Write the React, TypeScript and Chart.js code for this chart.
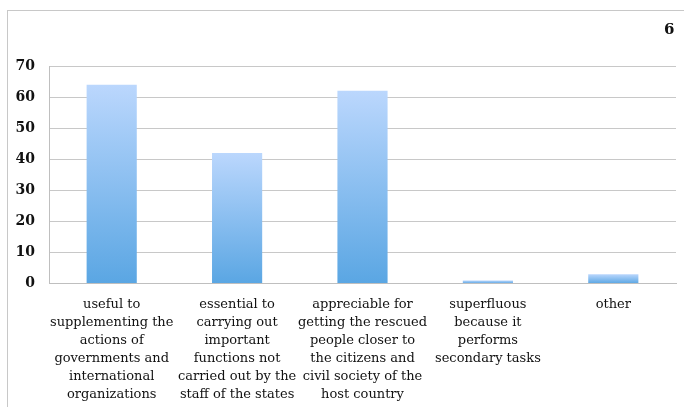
import React, { useEffect, useRef } from "react";
import { Chart, registerables } from "chart.js";

Chart.register(...registerables);

const categories: string[][] = [
  ["useful to", "supplementing the", "actions of", "governments and", "international", "organizations"],
  ["essential to", "carrying out", "important", "functions not", "carried out by the", "staff of the states"],
  ["appreciable for", "getting the rescued", "people closer to", "the citizens and", "civil society of the", "host country"],
  ["superfluous", "because it", "performs", "secondary tasks"],
  ["other"],
];
const values: number[] = [64, 42, 62, 1, 3];
const yTicks: number[] = [0, 10, 20, 30, 40, 50, 60, 70];

export default function App() {
  const ref = useRef<HTMLCanvasElement | null>(null);
  useEffect(() => {
    if (!ref.current) return;
    const chart = new Chart(ref.current, {
      type: "bar",
      data: {
        labels: categories,
        datasets: [
          {
            data: values,
            categoryPercentage: 1,
            barPercentage: 0.4,
            borderWidth: 0,
            backgroundColor: (ctx: any) => {
              const c = ctx.chart;
              const y = c.scales?.y;
              if (!y || ctx.dataIndex === undefined) return "#8ABEF0";
              const top = y.getPixelForValue(values[ctx.dataIndex]);
              const base = y.getPixelForValue(0);
              if (!isFinite(top) || !isFinite(base) || top === base) return "#8ABEF0";
              const g = c.ctx.createLinearGradient(0, top, 0, base);
              g.addColorStop(0, "#BBD7FD");
              g.addColorStop(1, "#5AA6E3");
              return g;
            },
          },
        ],
      },
      options: {
        animation: false,
        responsive: false,
        devicePixelRatio: 1,
        layout: { padding: { left: 0, right: 8, top: 66, bottom: 0 } },
        plugins: { legend: { display: false }, tooltip: { enabled: false }, title: { display: false } },
        scales: {
          x: {
            grid: { display: false, drawTicks: false },
            border: { display: true, color: "#BFBFBF", width: 1 },
            ticks: {
              color: "#111",
              padding: 12,
              maxRotation: 0,
              autoSkip: false,
              font: { family: "DejaVu Serif", size: 13, lineHeight: 1.38 },
            },
            afterFit: (s: any) => {
              s.height = 407 - 283.5;
            },
          },
          y: {
            min: 0,
            max: 70,
            afterBuildTicks: (s: any) => {
              s.ticks = yTicks.map((v) => ({ value: v }));
            },
            grid: { color: "#C8C8C8", lineWidth: 1, drawTicks: false },
            border: { display: true, color: "#BFBFBF", width: 1 },
            ticks: {
              color: "#111",
              padding: 14,
              font: { family: "DejaVu Serif", size: 14, weight: "bold" },
            },
            afterFit: (s: any) => {
              s.width = 49;
            },
          },
        },
      },
    });
    return () => chart.destroy();
  }, []);
  return (
    <div style={{ position: "fixed", left: 0, top: 0, width: 684, height: 407, background: "#fff", overflow: "hidden" }}>
      <div
        style={{
          position: "absolute",
          left: 7,
          top: 10,
          width: 700,
          height: 420,
          borderLeft: "1px solid #C8C8C8",
          borderTop: "1px solid #C8C8C8",
        }}
      />
      <canvas ref={ref} width={684} height={407} style={{ position: "absolute", left: 0, top: 0 }} />
      <div
        style={{
          position: "absolute",
          left: 664,
          top: 20,
          fontFamily: "DejaVu Serif",
          fontWeight: "bold",
          fontSize: 15,
          color: "#111",
        }}
      >
        6
      </div>
    </div>
  );
}
